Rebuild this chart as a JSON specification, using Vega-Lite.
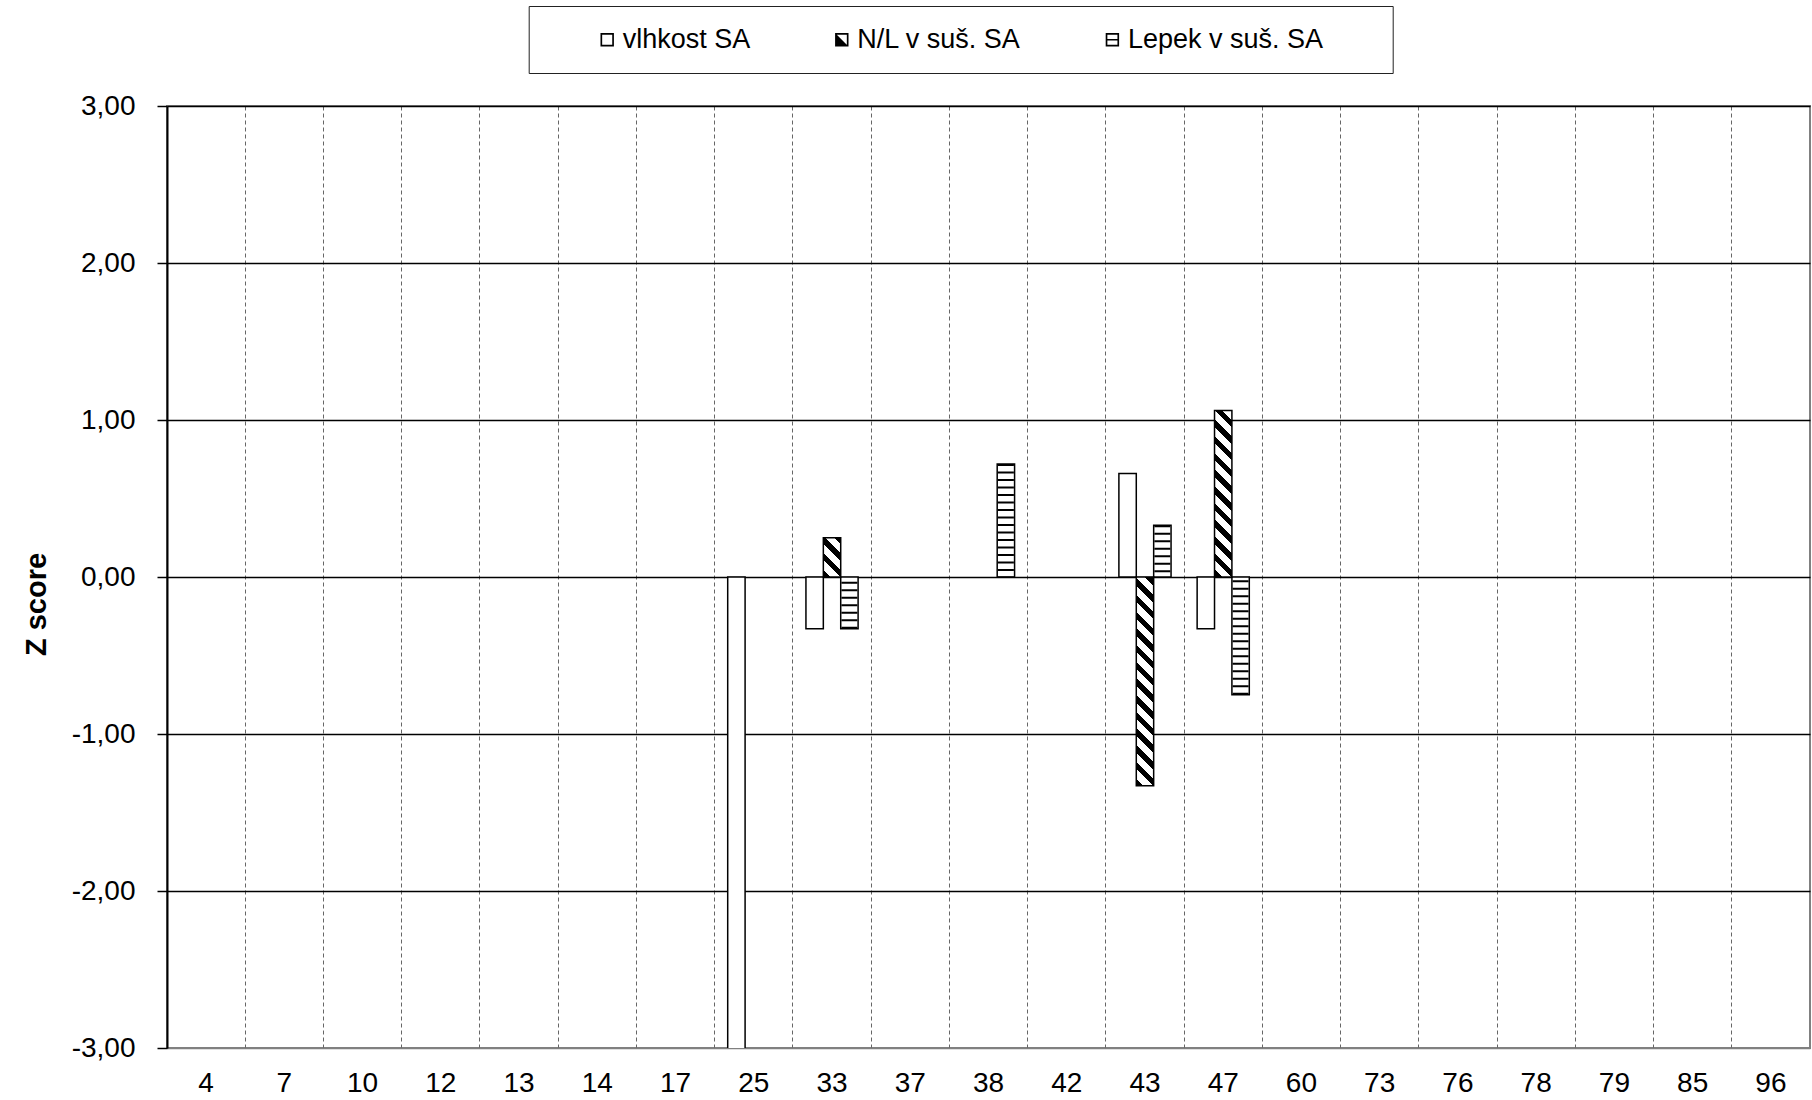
{
  "$schema": "https://vega.github.io/schema/vega-lite/v6.json",
  "width": 1643,
  "height": 942,
  "autosize": {"type": "none"},
  "padding": {"left": 167, "top": 106, "right": 2, "bottom": 52},
  "background": "white",
  "config": {
    "view": {"stroke": "#808080", "strokeWidth": 2},
    "font": "Liberation Sans"
  },
  "datasets": {
    "scores": [
      {"cat": "25", "series": "vlhkost SA", "z": -3.4},
      {"cat": "33", "series": "vlhkost SA", "z": -0.33},
      {"cat": "33", "series": "N/L v suš. SA", "z": 0.25},
      {"cat": "33", "series": "Lepek v suš. SA", "z": -0.33},
      {"cat": "38", "series": "Lepek v suš. SA", "z": 0.72},
      {"cat": "43", "series": "vlhkost SA", "z": 0.66},
      {"cat": "43", "series": "N/L v suš. SA", "z": -1.33},
      {"cat": "43", "series": "Lepek v suš. SA", "z": 0.33},
      {"cat": "47", "series": "vlhkost SA", "z": -0.33},
      {"cat": "47", "series": "N/L v suš. SA", "z": 1.06},
      {"cat": "47", "series": "Lepek v suš. SA", "z": -0.75}
    ],
    "categories": [
      {"cat": "4"}, {"cat": "7"}, {"cat": "10"}, {"cat": "12"}, {"cat": "13"}, {"cat": "14"}, {"cat": "17"},
      {"cat": "25"}, {"cat": "33"}, {"cat": "37"}, {"cat": "38"}, {"cat": "42"}, {"cat": "43"}, {"cat": "47"},
      {"cat": "60"}, {"cat": "73"}, {"cat": "76"}, {"cat": "78"}, {"cat": "79"}, {"cat": "85"}, {"cat": "96"}
    ]
  },
  "data": {"name": "scores"},
  "encoding": {
    "x": {
      "field": "cat", "type": "nominal",
      "scale": {"domain": ["4","7","10","12","13","14","17","25","33","37","38","42","43","47","60","73","76","78","79","85","96"], "paddingInner": 0, "paddingOuter": 0},
      "axis": {
        "title": null, "grid": true, "gridDash": [4, 3], "gridColor": "#666", "gridWidth": 1,
        "bandPosition": 0, "ticks": false, "domain": false,
        "labelFontSize": 28, "labelColor": "black", "labelPadding": 21, "labelAngle": 0
      }
    },
    "y": {
      "field": "z", "type": "quantitative",
      "scale": {"domain": [-3, 3], "nice": false, "zero": false},
      "axis": {
        "values": [-3, -2, -1, 0, 1, 2, 3],
        "labelExpr": "replace(replace(format(datum.value, '.2f'), '.', ','), '\u2212', '-')",
        "grid": true, "gridWidth": 1.5,
        "gridColor": {"condition": {"test": "datum.value === -3", "value": "#808080"}, "value": "black"},
        "tickColor": "black", "tickSize": 10, "tickWidth": 1.5,
        "domainColor": "black", "domainWidth": 2,
        "labelFontSize": 28, "labelColor": "black", "labelPadding": 22,
        "title": "Z score", "titleFontSize": 29, "titleFontWeight": "bold", "titleColor": "black",
        "titleX": -131, "titleY": 498, "titleAngle": -90, "titleAlign": "center", "titleBaseline": "middle"
      }
    }
  },
  "layer": [
    {
      "transform": [{"filter": "datum.series === 'vlhkost SA'"}],
      "mark": {"type": "bar", "fill": "white", "stroke": "black", "strokeWidth": 1.5, "clip": true},
      "encoding": {
        "xOffset": {
          "field": "series", "type": "nominal",
          "scale": {"domain": ["vlhkost SA", "N/L v suš. SA", "Lepek v suš. SA"], "paddingInner": 0, "paddingOuter": 0.75}
        }
      }
    },
    {
      "transform": [{"filter": "datum.series === 'Lepek v suš. SA'"}],
      "mark": {"type": "bar", "fill": "white", "stroke": "black", "strokeWidth": 1.5},
      "encoding": {"xOffset": {"field": "series", "type": "nominal"}}
    },
    {
      "transform": [{"filter": "datum.series === 'Lepek v suš. SA'"}],
      "mark": {"type": "rule", "strokeWidth": 16, "strokeDash": [2, 5.5], "color": "black", "strokeCap": "butt"},
      "encoding": {"xOffset": {"field": "series", "type": "nominal"}, "y2": {"datum": 0}}
    },
    {
      "transform": [{"filter": "datum.series === 'N/L v suš. SA' && datum.cat === '33'"}],
      "mark": {
        "type": "bar", "stroke": "black", "strokeWidth": 1.5,
        "fill": {
          "gradient": "linear", "x1": 0, "y1": 1, "x2": 0.5343, "y2": -0.2063,
          "stops": [
            {"offset": 0, "color": "black"}, {"offset": 0.1327, "color": "black"},
            {"offset": 0.1327, "color": "white"}, {"offset": 0.2948, "color": "white"},
            {"offset": 0.2948, "color": "black"}, {"offset": 0.4275, "color": "black"},
            {"offset": 0.4275, "color": "white"}, {"offset": 0.5896, "color": "white"},
            {"offset": 0.5896, "color": "black"}, {"offset": 0.7223, "color": "black"},
            {"offset": 0.7223, "color": "white"}, {"offset": 0.8844, "color": "white"},
            {"offset": 0.8844, "color": "black"}, {"offset": 1, "color": "black"}
          ]
        }
      },
      "encoding": {"xOffset": {"field": "series", "type": "nominal"}}
    },
    {
      "transform": [{"filter": "datum.series === 'N/L v suš. SA' && datum.cat === '43'"}],
      "mark": {
        "type": "bar", "stroke": "black", "strokeWidth": 1.5,
        "fill": {
          "gradient": "linear", "x1": 0, "y1": 1, "x2": 0.0896, "y2": -0.0758,
          "stops": [
            {"offset": 0, "color": "black"}, {"offset": 0.0332, "color": "black"},
            {"offset": 0.0332, "color": "white"}, {"offset": 0.0738, "color": "white"},
            {"offset": 0.0738, "color": "black"}, {"offset": 0.1070, "color": "black"},
            {"offset": 0.1070, "color": "white"}, {"offset": 0.1476, "color": "white"},
            {"offset": 0.1476, "color": "black"}, {"offset": 0.1808, "color": "black"},
            {"offset": 0.1808, "color": "white"}, {"offset": 0.2214, "color": "white"},
            {"offset": 0.2214, "color": "black"}, {"offset": 0.2546, "color": "black"},
            {"offset": 0.2546, "color": "white"}, {"offset": 0.2952, "color": "white"},
            {"offset": 0.2952, "color": "black"}, {"offset": 0.3284, "color": "black"},
            {"offset": 0.3284, "color": "white"}, {"offset": 0.3690, "color": "white"},
            {"offset": 0.3690, "color": "black"}, {"offset": 0.4022, "color": "black"},
            {"offset": 0.4022, "color": "white"}, {"offset": 0.4428, "color": "white"},
            {"offset": 0.4428, "color": "black"}, {"offset": 0.4760, "color": "black"},
            {"offset": 0.4760, "color": "white"}, {"offset": 0.5167, "color": "white"},
            {"offset": 0.5167, "color": "black"}, {"offset": 0.5499, "color": "black"},
            {"offset": 0.5499, "color": "white"}, {"offset": 0.5905, "color": "white"},
            {"offset": 0.5905, "color": "black"}, {"offset": 0.6237, "color": "black"},
            {"offset": 0.6237, "color": "white"}, {"offset": 0.6643, "color": "white"},
            {"offset": 0.6643, "color": "black"}, {"offset": 0.6975, "color": "black"},
            {"offset": 0.6975, "color": "white"}, {"offset": 0.7381, "color": "white"},
            {"offset": 0.7381, "color": "black"}, {"offset": 0.7713, "color": "black"},
            {"offset": 0.7713, "color": "white"}, {"offset": 0.8119, "color": "white"},
            {"offset": 0.8119, "color": "black"}, {"offset": 0.8451, "color": "black"},
            {"offset": 0.8451, "color": "white"}, {"offset": 0.8857, "color": "white"},
            {"offset": 0.8857, "color": "black"}, {"offset": 0.9189, "color": "black"},
            {"offset": 0.9189, "color": "white"}, {"offset": 0.9595, "color": "white"},
            {"offset": 0.9595, "color": "black"}, {"offset": 0.9927, "color": "black"},
            {"offset": 0.9927, "color": "white"}, {"offset": 1, "color": "white"}
          ]
        }
      },
      "encoding": {"xOffset": {"field": "series", "type": "nominal"}}
    },
    {
      "transform": [{"filter": "datum.series === 'N/L v suš. SA' && datum.cat === '47'"}],
      "mark": {
        "type": "bar", "stroke": "black", "strokeWidth": 1.5,
        "fill": {
          "gradient": "linear", "x1": 0, "y1": 1, "x2": 0.1141, "y2": -0.0925,
          "stops": [
            {"offset": 0, "color": "black"}, {"offset": 0.0409, "color": "black"},
            {"offset": 0.0409, "color": "white"}, {"offset": 0.0908, "color": "white"},
            {"offset": 0.0908, "color": "black"}, {"offset": 0.1317, "color": "black"},
            {"offset": 0.1317, "color": "white"}, {"offset": 0.1817, "color": "white"},
            {"offset": 0.1817, "color": "black"}, {"offset": 0.2225, "color": "black"},
            {"offset": 0.2225, "color": "white"}, {"offset": 0.2725, "color": "white"},
            {"offset": 0.2725, "color": "black"}, {"offset": 0.3134, "color": "black"},
            {"offset": 0.3134, "color": "white"}, {"offset": 0.3633, "color": "white"},
            {"offset": 0.3633, "color": "black"}, {"offset": 0.4042, "color": "black"},
            {"offset": 0.4042, "color": "white"}, {"offset": 0.4541, "color": "white"},
            {"offset": 0.4541, "color": "black"}, {"offset": 0.4950, "color": "black"},
            {"offset": 0.4950, "color": "white"}, {"offset": 0.5450, "color": "white"},
            {"offset": 0.5450, "color": "black"}, {"offset": 0.5858, "color": "black"},
            {"offset": 0.5858, "color": "white"}, {"offset": 0.6358, "color": "white"},
            {"offset": 0.6358, "color": "black"}, {"offset": 0.6767, "color": "black"},
            {"offset": 0.6767, "color": "white"}, {"offset": 0.7266, "color": "white"},
            {"offset": 0.7266, "color": "black"}, {"offset": 0.7675, "color": "black"},
            {"offset": 0.7675, "color": "white"}, {"offset": 0.8175, "color": "white"},
            {"offset": 0.8175, "color": "black"}, {"offset": 0.8583, "color": "black"},
            {"offset": 0.8583, "color": "white"}, {"offset": 0.9083, "color": "white"},
            {"offset": 0.9083, "color": "black"}, {"offset": 0.9492, "color": "black"},
            {"offset": 0.9492, "color": "white"}, {"offset": 1, "color": "white"}
          ]
        }
      },
      "encoding": {"xOffset": {"field": "series", "type": "nominal"}}
    },
    {
      "data": {"name": "categories"},
      "mark": {"type": "rule", "color": "black", "strokeWidth": 1.5},
      "encoding": {
        "x": {"field": "cat", "type": "nominal", "bandPosition": 0},
        "y": {"datum": 0},
        "y2": {"datum": -0.06}
      }
    },
    {
      "mark": {"type": "point", "filled": true, "color": "black", "opacity": 0, "strokeWidth": 0},
      "encoding": {
        "xOffset": {"field": "series", "type": "nominal"},
        "shape": {
          "field": "series", "type": "nominal",
          "scale": {
            "domain": ["vlhkost SA", "N/L v suš. SA", "Lepek v suš. SA"],
            "range": [
              "M-1,-1H1V1H-1Z M-0.75,-0.75V0.75H0.75V-0.75Z",
              "M-1,-1H1V1H-1Z M-0.75,-0.75V0.75H0.75V-0.75Z M-1,-1L1,1H-1Z",
              "M-1,-1H1V1H-1Z M-0.75,-0.75V0.75H0.75V-0.75Z M-1,-0.12H1V0.12H-1Z"
            ]
          },
          "legend": {
            "orient": "none", "legendX": 361.7, "legendY": -100,
            "direction": "horizontal", "columns": 3,
            "title": "\u00a0", "titleOrient": "right", "titlePadding": 50, "titleFontSize": 27,
            "strokeColor": "#222", "fillColor": "white", "padding": 20,
            "symbolOffset": 45, "columnPadding": 32.6,
            "labelFontSize": 27, "labelColor": "black", "labelOffset": 2, "labelFont": "Liberation Sans", "labelLimit": 500,
            "symbolSize": 180, "symbolFillColor": "black", "symbolStrokeWidth": 0, "symbolOpacity": 1,
            "encode": {"legend": {"update": {"strokeWidth": {"value": 2}}}}
          }
        }
      }
    }
  ]
}
